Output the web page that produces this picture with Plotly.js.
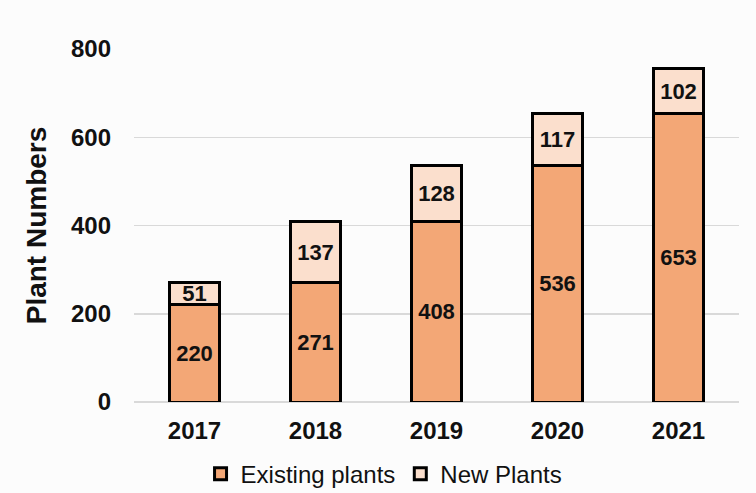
<!DOCTYPE html>
<html>
<head>
<meta charset="utf-8">
<script src="https://cdn.plot.ly/plotly-3.0.1.min.js"></script>
<style>
  html, body { margin: 0; padding: 0; background: #fcfcfc; }
  #chart { width: 756px; height: 493px; }
</style>
</head>
<body>
<div id="chart"></div>
<script>
// Plant counts per year, split into existing and newly added plants
const years = ['2017', '2018', '2019', '2020', '2021'];
const existingPlants = [220, 271, 408, 536, 653];
const newPlants = [51, 137, 128, 117, 102];

const fontFamily = 'Liberation Sans, Arial, sans-serif';

function barTrace(name, values, color) {
  return {
    type: 'bar',
    name: name,
    x: years,
    y: values,
    text: values.map(String),
    textposition: 'inside',
    insidetextanchor: 'middle',
    textangle: 0,
    constraintext: 'none',
    textfont: { family: fontFamily, size: 22, color: '#111', weight: 'bold' },
    marker: { color: color, line: { color: '#000', width: 3 } },
    width: 0.42
  };
}

const data = [
  barTrace('Existing plants', existingPlants, '#f3a776'),
  barTrace('New Plants', newPlants, '#fbdfcd')
];

const layout = {
  width: 756,
  height: 493,
  barmode: 'stack',
  paper_bgcolor: '#fcfcfc',
  plot_bgcolor: '#fcfcfc',
  margin: { l: 134, r: 17, t: 49, b: 91, autoexpand: false },
  font: { family: fontFamily, color: '#111' },
  xaxis: {
    tickfont: { family: fontFamily, size: 24, color: '#111', weight: 'bold' },
    showline: false,
    ticks: '',
    showgrid: false,
    ticklabelstandoff: 12
  },
  yaxis: {
    range: [0, 800],
    dtick: 200,
    tickfont: { family: fontFamily, size: 24, color: '#111', weight: 'bold' },
    gridcolor: '#d9d9d9',
    gridwidth: 1.5,
    zeroline: true,
    zerolinecolor: '#d9d9d9',
    zerolinewidth: 1.5,
    ticks: '',
    ticklen: 0,
    ticklabelstandoff: 22,
    title: {
      text: 'Plant Numbers',
      font: { family: fontFamily, size: 28, color: '#111', weight: 'bold' },
      standoff: 16
    }
  },
  showlegend: true,
  legend: {
    orientation: 'h',
    xref: 'container',
    yref: 'container',
    x: 0.508,
    xanchor: 'center',
    y: 0.038,
    yanchor: 'middle',
    font: { family: fontFamily, size: 24, color: '#111' },
    itemwidth: 30,
    traceorder: 'normal'
  }
};

Plotly.newPlot('chart', data, layout, { displayModeBar: false, staticPlot: true });
</script>
</body>
</html>
